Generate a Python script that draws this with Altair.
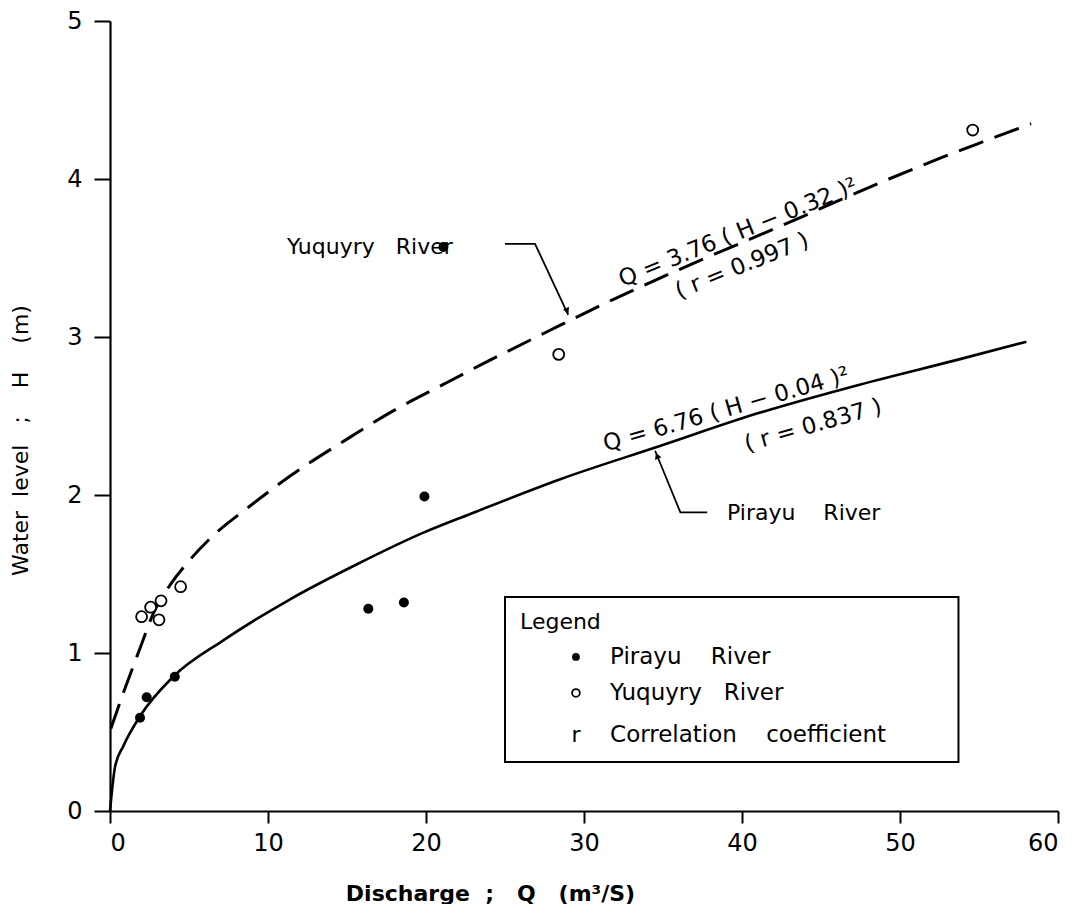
import altair as alt
import pandas as pd

# ---- data ----
yuq_curve_q = [0.05, 1.0, 1.9, 2.74, 3.8, 5.06, 6.5, 8.86, 11.4, 15.1, 17.7, 21.1, 23.4, 27.6, 31.9, 36.1, 42.4, 49.3, 52.5, 55.1, 58.3]
yuq_curve_h = [0.52, 0.79, 1.03, 1.25, 1.43, 1.59, 1.74, 1.93, 2.12, 2.36, 2.52, 2.70, 2.82, 3.03, 3.24, 3.43, 3.70, 4.00, 4.13, 4.23, 4.35]

pir_curve_q = [0.0, 0.32, 0.84, 1.9, 4.0, 7.17, 11.4, 15.6, 19.8, 22.8, 28.5, 34.8, 41.1, 47.5, 53.8, 58.0]
pir_curve_h = [0.0, 0.28, 0.41, 0.60, 0.85, 1.08, 1.34, 1.56, 1.76, 1.88, 2.10, 2.31, 2.52, 2.70, 2.86, 2.97]

pir_pts_q = [1.9, 2.32, 4.1, 16.35, 18.6, 19.9, 21.1]
pir_pts_h = [0.59, 0.72, 0.85, 1.28, 1.32, 1.99, 3.57]

yuq_pts_q = [2.0, 2.57, 3.1, 3.23, 4.47, 28.4, 54.6]
yuq_pts_h = [1.23, 1.29, 1.21, 1.33, 1.42, 2.89, 4.31]

x_ticks = [0, 10, 20, 30, 40, 50, 60]
y_ticks = [0, 1, 2, 3, 4, 5]

# annotation anchors (data coordinates)
yuq_leader_q = [25.0, 26.9, 29.0]
yuq_leader_h = [3.59, 3.59, 3.14]
pir_leader_q = [37.8, 36.1, 34.5]
pir_leader_h = [1.89, 1.89, 2.28]

legend_box = {"q1": 25.0, "q2": 53.7, "h1": 0.31, "h2": 1.354}

FONT = "DejaVu Sans"
NB = "\u00a0"
W, H = 948, 790

xs = alt.Scale(domain=[0, 60], nice=False)
ys = alt.Scale(domain=[0, 5], nice=False)

xax = alt.Axis(values=x_ticks, format="d",
               title=f"Discharge{NB*2};{NB*3}Q{NB*3}(m³/S)", grid=False,
               domainColor="black", domainWidth=2.2, tickColor="black", tickWidth=2,
               tickSize=12, labelFontSize=24, labelColor="black", labelPadding=8,
               labelFont=FONT, titleFont=FONT, titleFontSize=22, titleFontWeight="bold",
               titleColor="black", titleX=380, titleY=82, titleBaseline="middle",
               titleAnchor="middle", titleAlign="center")
yax = alt.Axis(values=y_ticks, format="d",
               title=f"Water{NB*2}level{NB*3};{NB*4}H{NB*4}(m)", grid=False,
               domainColor="black", domainWidth=2.2, tickColor="black", tickWidth=2,
               tickSize=16, labelFontSize=24, labelColor="black", labelPadding=12,
               labelFont=FONT, titleFont=FONT, titleFontSize=22, titleFontWeight="normal",
               titleColor="black", titleX=-90, titleY=419, titleBaseline="middle",
               titleAlign="center", titleAngle=270)

yuq_df = pd.DataFrame({"Q": yuq_curve_q, "H": yuq_curve_h})
pir_df = pd.DataFrame({"Q": pir_curve_q, "H": pir_curve_h})

yuq_line = alt.Chart(yuq_df).mark_line(color="black", strokeWidth=3, strokeDash=[26, 12],
                                       interpolate="monotone").encode(
    x=alt.X("Q:Q", scale=xs, axis=xax), y=alt.Y("H:Q", scale=ys, axis=yax))
pir_line = alt.Chart(pir_df).mark_line(color="black", strokeWidth=2.6,
                                       interpolate="monotone").encode(
    x=alt.X("Q:Q", scale=xs), y=alt.Y("H:Q", scale=ys))

pir_pts = alt.Chart(pd.DataFrame({"Q": pir_pts_q, "H": pir_pts_h})).mark_point(
    filled=True, color="black", size=100, opacity=1).encode(
    x=alt.X("Q:Q", scale=xs), y=alt.Y("H:Q", scale=ys))
yuq_pts = alt.Chart(pd.DataFrame({"Q": yuq_pts_q, "H": yuq_pts_h})).mark_point(
    filled=False, color="black", size=120, strokeWidth=1.8, opacity=1, fill="white").encode(
    x=alt.X("Q:Q", scale=xs), y=alt.Y("H:Q", scale=ys))

yl = pd.DataFrame({"Q": yuq_leader_q, "H": yuq_leader_h, "o": [0, 1, 2]})
pl = pd.DataFrame({"Q": pir_leader_q, "H": pir_leader_h, "o": [0, 1, 2]})
yuq_leader = alt.Chart(yl).mark_line(color="black", strokeWidth=1.8).encode(
    x=alt.X("Q:Q", scale=xs), y=alt.Y("H:Q", scale=ys), order="o:Q")
pir_leader = alt.Chart(pl).mark_line(color="black", strokeWidth=1.8).encode(
    x=alt.X("Q:Q", scale=xs), y=alt.Y("H:Q", scale=ys), order="o:Q")
pir_arrow = alt.Chart(pd.DataFrame({"Q": [pir_leader_q[-1]], "H": [pir_leader_h[-1]]})).mark_point(
    shape="triangle-up", filled=True, color="black", size=50, angle=338, opacity=1, yOffset=5, xOffset=2).encode(
    x=alt.X("Q:Q", scale=xs), y=alt.Y("H:Q", scale=ys))
yuq_arrow = alt.Chart(pd.DataFrame({"Q": [yuq_leader_q[-1]], "H": [yuq_leader_h[-1]]})).mark_point(
    shape="triangle-down", filled=True, color="black", size=45, angle=335, opacity=1, yOffset=-4, xOffset=-1).encode(
    x=alt.X("Q:Q", scale=xs), y=alt.Y("H:Q", scale=ys))


def label(text, q, h, size=22, angle=0, align="left", weight="normal"):
    return alt.Chart(pd.DataFrame({"Q": [q], "H": [h], "t": [text]})).mark_text(
        font=FONT, fontSize=size, angle=angle, align=align, baseline="middle",
        color="black", fontWeight=weight).encode(
        x=alt.X("Q:Q", scale=xs), y=alt.Y("H:Q", scale=ys), text="t:N")


texts = [
    label(f"Yuquyry{NB*3}River", 11.2, 3.57),
    label(f"Pirayu{NB*4}River", 39.05, 1.886),
    label(f"Q = 3.76 ( H − 0.32 )²", 39.75, 3.66, size=23, angle=338, align="center"),
    label(f"( r = 0.997 )", 40.0, 3.45, size=23, angle=338, align="center"),
    label(f"Q = 6.76 ( H − 0.04 )²", 39.0, 2.54, size=23, angle=344, align="center"),
    label(f"( r = 0.837 )", 44.5, 2.44, size=23, angle=344, align="center"),
    # legend contents
    label("Legend", 25.95, 1.196),
    label(f"Pirayu{NB*4}River", 31.65, 0.975, size=23),
    label(f"Yuquyry{NB*3}River", 31.65, 0.747, size=23),
    label("r", 29.49, 0.481, align="center"),
    label(f"Correlation{NB*4}coefficient", 31.65, 0.481, size=23),
]

box = alt.Chart(pd.DataFrame([legend_box])).mark_rect(fill=None, stroke="black", strokeWidth=2).encode(
    x=alt.X("q1:Q", scale=xs), x2="q2:Q", y=alt.Y("h1:Q", scale=ys), y2="h2:Q")

leg_filled = alt.Chart(pd.DataFrame({"Q": [29.49], "H": [0.975]})).mark_point(
    filled=True, color="black", size=60, opacity=1).encode(
    x=alt.X("Q:Q", scale=xs), y=alt.Y("H:Q", scale=ys))
leg_open = alt.Chart(pd.DataFrame({"Q": [29.49], "H": [0.747]})).mark_point(
    filled=False, color="black", size=60, strokeWidth=1.8, opacity=1).encode(
    x=alt.X("Q:Q", scale=xs), y=alt.Y("H:Q", scale=ys))

chart = alt.layer(
    yuq_line, pir_line, yuq_leader, pir_leader, pir_arrow, yuq_arrow,
    box, leg_filled, leg_open, *texts, pir_pts, yuq_pts,
).properties(
    width=W, height=H,
    autosize=alt.AutoSizeParams(type="none"),
    padding={"left": 102, "top": 13, "right": 16, "bottom": 93},
    background="white",
).configure_view(stroke=None)

chart.save("out.html", embed_options={"renderer": "svg", "actions": False})
